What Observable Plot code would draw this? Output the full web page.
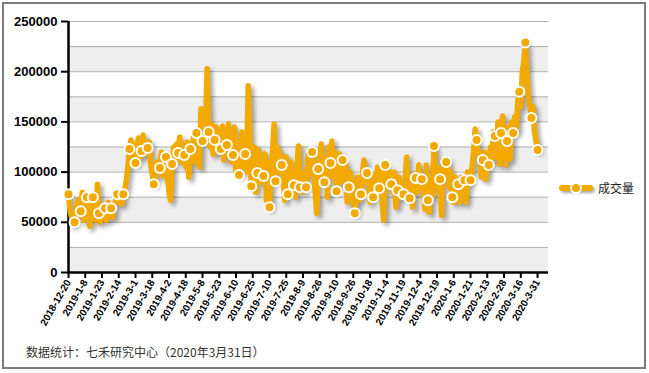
<!DOCTYPE html>
<html><head><meta charset="utf-8">
<script src="https://cdn.jsdelivr.net/npm/d3@7"></script>
<script src="https://cdn.jsdelivr.net/npm/@observablehq/plot@0.6"></script>
<style>
html,body{margin:0;padding:0;background:#fff;}
#frame{position:absolute;left:2px;top:2px;width:644px;height:367px;border:2px solid #7a7a7a;box-sizing:border-box;}
#chart{position:absolute;left:0;top:0;}
#legend{position:absolute;left:556px;top:176px;}
#caption{position:absolute;left:26px;top:343px;font-size:12px;font-family:"Noto Sans CJK SC","Noto Sans",sans-serif;color:#333;white-space:nowrap;}
</style></head>
<body>
<div id="frame"></div>
<div id="chart"></div>
<svg id="legend" width="90" height="24">
  <line x1="6" y1="12" x2="34" y2="12" stroke="#F2A900" stroke-width="6" stroke-linecap="round" style="filter:drop-shadow(2px 2px 1.5px rgba(0,0,0,0.35))"></line>
  <circle cx="20" cy="12" r="5" fill="#F2A900" stroke="#fff" stroke-width="2"></circle>
  <text x="42" y="16.5" font-size="12" font-family="Noto Sans CJK SC, sans-serif" fill="#222">成交量</text>
</svg>
<div id="caption">数据统计：七禾研究中心（2020年3月31日）</div>
<script>
// tick labels (one every 11 trading days)
const tickLabels = ["2018-12-20","2019-1-8","2019-1-23","2019-2-14","2019-3-1","2019-3-18","2019-4-2","2019-4-18","2019-5-8","2019-5-23","2019-6-10","2019-6-25","2019-7-10","2019-7-25","2019-8-9","2019-8-26","2019-9-10","2019-9-26","2019-10-18","2019-11-4","2019-11-19","2019-12-4","2019-12-19","2020-1-6","2020-1-21","2020-2-13","2020-2-28","2020-3-16","2020-3-31"];
const seriesName = "成交量";
// daily volume, in thousands
const volumeThousands = [
78,62,55,48, 50,58,72,66, 61,80,52,70, 75,64,46,68, 75,70,52,88,
59,50,66,55, 64,52,70,58, 64,55,66,72, 78,70,80,68, 78,82,92,105,
123,132,112,128, 109,125,134,115, 121,137,118,130, 124,130,108,98, 88,95,110,100,
104,120,96,112, 115,95,80,72, 108,125,112,128, 119,135,110,128, 117,105,130,95,
123,118,135,110, 139,125,105,163, 131,150,140,203, 140,125,148,118, 132,145,120,140,
123,146,112,135, 127,148,120,110, 117,145,100,130, 97,125,140,105, 118,100,186,140,
86,110,125,80, 99,122,90,115, 96,118,72,110, 65,100,120,148, 91,125,100,120,
107,95,72,115, 78,90,110,82, 87,75,105,126, 85,100,80,95, 85,110,122,98,
120,105,80,59, 103,115,128,95, 90,115,75,125, 109,131,95,120, 81,100,118,90,
112,95,108,70, 85,100,90,72, 59,80,95,72, 78,98,112,90, 99,85,70,90,
75,98,82,105, 84,100,70,52, 107,95,85,100, 88,80,100,65, 82,95,75,88,
78,90,115,80, 74,85,65,98, 94,80,107,85, 93,85,63,107, 72,60,93,75,
126,100,105,80, 93,57,112,98, 110,112,85,100, 75,70,95,85, 88,70,95,80,
92,70,100,88, 92,105,120,143, 132,120,115,95, 112,120,93,105, 107,125,110,140,
136,115,150,108, 139,156,125,107, 131,145,113,150, 139,155,140,170, 180,165,200,210,
229,200,175,165, 154,165,140,131, 122
];
const yTicks = [0, 50000, 100000, 150000, 200000, 250000];

const data = volumeThousands.map((v, i) => ({i, v: v * 1000}));
const markers = data.filter(d => d.i % 4 === 0);
const tickIdx = tickLabels.map((_, j) => j * 11);
const xMax = 315.2;
const bands = d3.range(0, 250000, 50000);
const grid = d3.range(25000, 250001, 25000);

const chart = Plot.plot({
  width: 649, height: 340,
  marginLeft: 68, marginRight: 101, marginTop: 21, marginBottom: 68,
  style: {fontFamily: '"Liberation Sans", Arial, sans-serif', fontWeight: "bold", fontSize: "13px", color: "#000", background: "transparent", overflow: "visible"},
  x: {type: "linear", domain: [0, xMax], ticks: tickIdx, tickFormat: i => tickLabels[Math.round(i / 11)], tickRotate: -60, tickSize: 6, tickPadding: 2, label: null},
  y: {domain: [0, 250000], ticks: yTicks, tickFormat: d => String(d), tickSize: 7, tickPadding: 4, label: null},
  marks: [
    Plot.rect(bands, {x1: () => 0, x2: () => xMax, y1: d => d, y2: d => d + 25000, fill: "#eeeeee"}),
    Plot.ruleY(grid, {stroke: "#b0b0b0", strokeWidth: 1}),
    Plot.ruleX([0], {stroke: "#000", strokeWidth: 2.5}),
    Plot.ruleY([0], {stroke: "#000", strokeWidth: 2.5}),
    Plot.line(data, {x: "i", y: "v", stroke: "#F2A900", strokeWidth: 5.5, strokeLinejoin: "round", strokeLinecap: "round"}),
    Plot.dot(markers, {x: "i", y: "v", r: 5, fill: "#F2A900", stroke: "#fff", strokeWidth: 2, title: d => seriesName})
  ]
});
document.getElementById("chart").appendChild(chart);
const s = d3.select(chart);
s.selectAll('g[aria-label="line"] path').style("filter", "drop-shadow(3px 3px 2px rgba(0,0,0,0.35))");
s.selectAll('g[aria-label^="x-axis"] text').style("font-size", "10px");
s.selectAll('g[aria-label^="x-axis"]').attr("font-size", "10");
s.selectAll('g[aria-label^="x-axis"] line, g[aria-label^="x-axis"] path, g[aria-label^="y-axis"] line, g[aria-label^="y-axis"] path').style("stroke-width", "2");
</script>
</body></html>
